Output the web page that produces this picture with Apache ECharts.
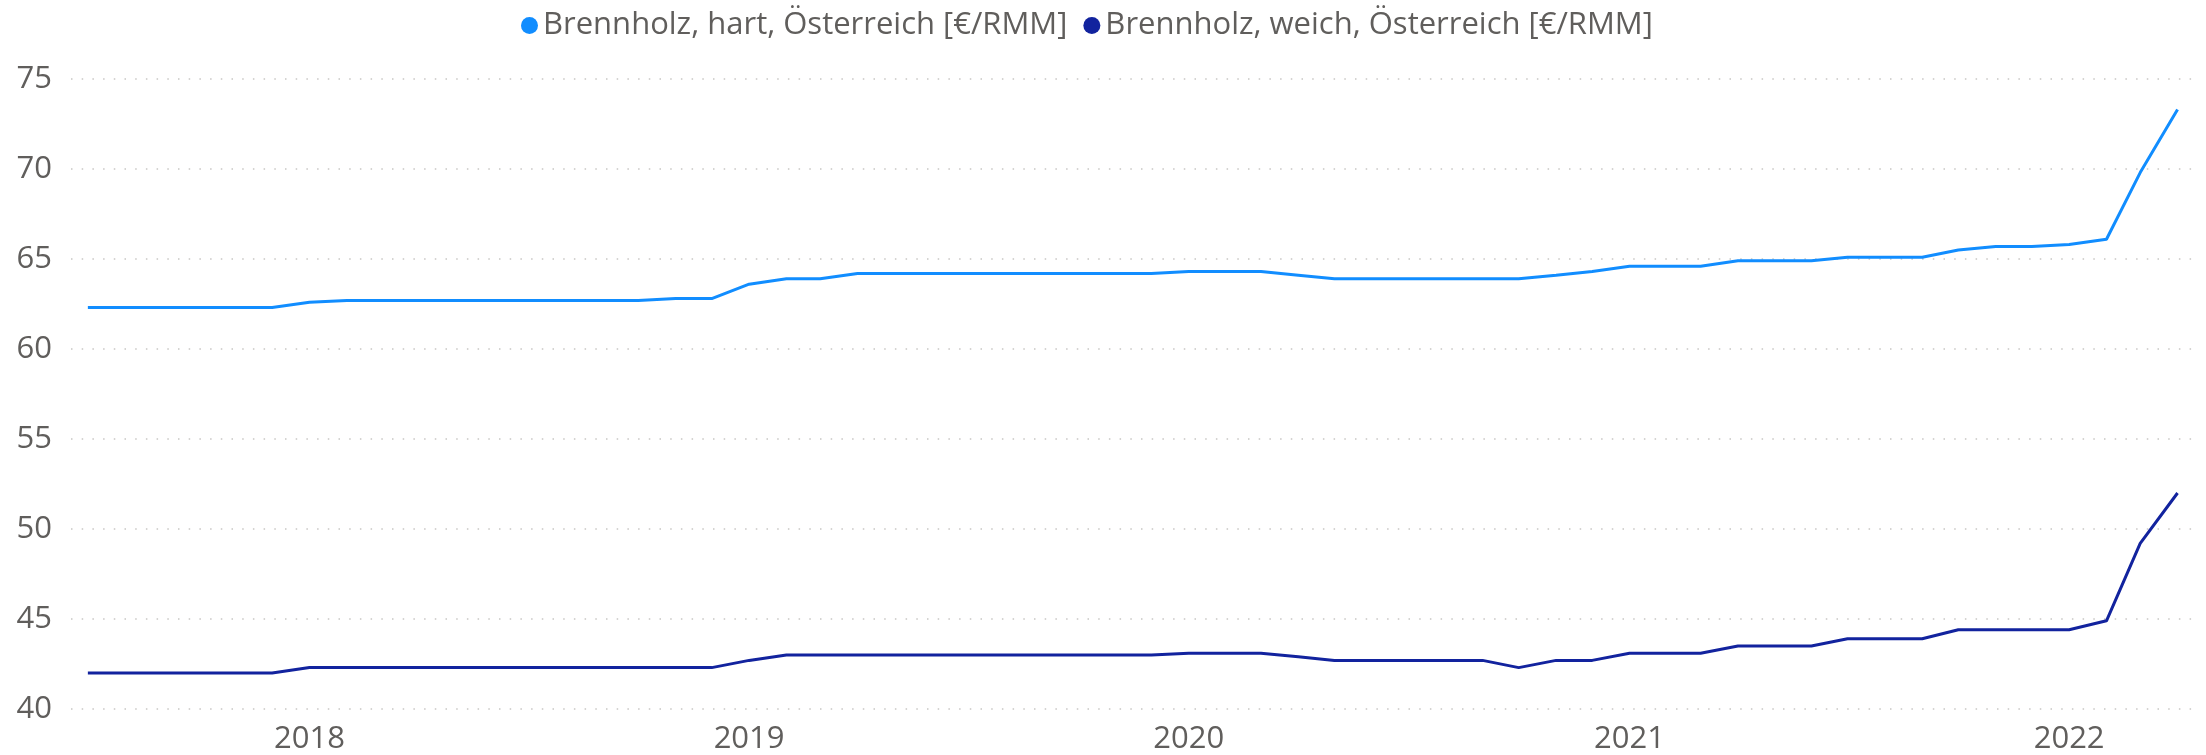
<!DOCTYPE html>
<html>
<head>
<meta charset="utf-8">
<title>Brennholz Österreich</title>
<script src="https://cdn.jsdelivr.net/npm/echarts@6/dist/echarts.min.js"></script>
<style>
  html, body { margin: 0; padding: 0; background: #fff; }
  #chart1 { width: 2206px; height: 755px; }
</style>
</head>
<body>
<div id="chart1"></div>
<script>
// Monate (Monatsanfang)
var months = [
  '2017-07','2017-08','2017-09','2017-10','2017-11','2017-12',
  '2018-01','2018-02','2018-03','2018-04','2018-05','2018-06',
  '2018-07','2018-08','2018-09','2018-10','2018-11','2018-12',
  '2019-01','2019-02','2019-03','2019-04','2019-05','2019-06',
  '2019-07','2019-08','2019-09','2019-10','2019-11','2019-12',
  '2020-01','2020-02','2020-03','2020-04','2020-05','2020-06',
  '2020-07','2020-08','2020-09','2020-10','2020-11','2020-12',
  '2021-01','2021-02','2021-03','2021-04','2021-05','2021-06',
  '2021-07','2021-08','2021-09','2021-10','2021-11','2021-12',
  '2022-01','2022-02','2022-03','2022-04'
];
// Brennholz, hart [€/RMM]
var hart = [
  62.3,62.3,62.3,62.3,62.3,62.3,
  62.6,62.7,62.7,62.7,62.7,62.7,
  62.7,62.7,62.7,62.7,62.8,62.8,
  63.6,63.9,63.9,64.2,64.2,64.2,
  64.2,64.2,64.2,64.2,64.2,64.2,
  64.3,64.3,64.3,64.1,63.9,63.9,
  63.9,63.9,63.9,63.9,64.1,64.3,
  64.6,64.6,64.6,64.9,64.9,64.9,
  65.1,65.1,65.1,65.5,65.7,65.7,
  65.8,66.1,69.8,73.3
];
// Brennholz, weich [€/RMM]
var weich = [
  42.0,42.0,42.0,42.0,42.0,42.0,
  42.3,42.3,42.3,42.3,42.3,42.3,
  42.3,42.3,42.3,42.3,42.3,42.3,
  42.7,43.0,43.0,43.0,43.0,43.0,
  43.0,43.0,43.0,43.0,43.0,43.0,
  43.1,43.1,43.1,42.9,42.7,42.7,
  42.7,42.7,42.7,42.3,42.7,42.7,
  43.1,43.1,43.1,43.5,43.5,43.5,
  43.9,43.9,43.9,44.4,44.4,44.4,
  44.4,44.9,49.2,52.0
];
var seriesNames = ['Brennholz, hart, Österreich [€/RMM]', 'Brennholz, weich, Österreich [€/RMM]'];
var yearLabels = ['2018', '2019', '2020', '2021', '2022'];

function toTime(m) {
  var p = m.split('-');
  return new Date(+p[0], +p[1] - 1, 1).getTime();
}
function pairs(vals) {
  var out = [];
  for (var i = 0; i < months.length; i++) {
    out.push([toTime(months[i]), vals[i]]);
  }
  return out;
}
var DAY = 86400000;
var fontName = '"Open Sans", "Noto Sans", sans-serif';

var myChart = echarts.init(document.getElementById('chart1'));
myChart.setOption({
  animation: false,
  textStyle: { fontFamily: fontName },
  legend: {
    top: 5,
    left: 516,
    icon: 'circle',
    itemWidth: 17,
    itemHeight: 17,
    itemGap: 16,
    textStyle: { color: '#605E5C', fontSize: 31, fontFamily: fontName },
    data: seriesNames
  },
  grid: { left: 71, right: 14, top: 79, bottom: 46 },
  xAxis: {
    type: 'time',
    min: toTime(months[0]) - 14 * DAY,
    max: toTime(months[months.length - 1]) + 12 * DAY,
    axisLine: { show: false },
    axisTick: { show: false },
    splitLine: { show: false },
    axisLabel: {
      color: '#605E5C',
      fontSize: 31,
      margin: 15,
      hideOverlap: false,
      showMinLabel: false,
      showMaxLabel: false,
      formatter: function (v) {
        var d = new Date(v);
        var y = String(d.getFullYear());
        if (d.getMonth() === 0 && d.getDate() === 1 && yearLabels.indexOf(y) >= 0) {
          return y;
        }
        return '';
      }
    }
  },
  yAxis: {
    type: 'value',
    min: 40,
    max: 75,
    interval: 5,
    axisLine: { show: false },
    axisTick: { show: false },
    axisLabel: { color: '#605E5C', fontSize: 31, margin: 19 },
    splitLine: { lineStyle: { color: '#C8C6C4', width: 1.5, type: [1.5, 9.2] } }
  },
  series: [
    {
      name: seriesNames[0],
      type: 'line',
      data: pairs(hart),
      showSymbol: false,
      symbol: 'circle',
      lineStyle: { width: 3, color: '#118DFF' },
      itemStyle: { color: '#118DFF' }
    },
    {
      name: seriesNames[1],
      type: 'line',
      data: pairs(weich),
      showSymbol: false,
      symbol: 'circle',
      lineStyle: { width: 3, color: '#12239E' },
      itemStyle: { color: '#12239E' }
    }
  ]
});
</script>
</body>
</html>
